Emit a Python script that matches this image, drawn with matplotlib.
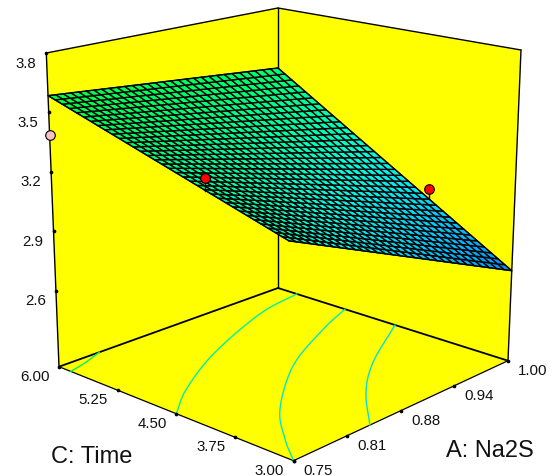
"""Response surface over A: Na2S and C: Time, drawn in a hand-rolled box projection."""

import matplotlib

matplotlib.use("Agg")
import matplotlib.pyplot as plt
import numpy as np
from matplotlib.collections import PolyCollection
from matplotlib.colors import LinearSegmentedColormap

plt.rcParams["font.family"] = ["Liberation Sans", "DejaVu Sans"]

# axis ranges and ticks
A_RANGE = (0.75, 1.00)
C_RANGE = (3.00, 6.00)
Z_RANGE = (2.218, 3.80)
a_ticks = [0.75, 0.81, 0.88, 0.94, 1.00]
a_pos = [0.75, 0.8125, 0.875, 0.9375, 1.00]
c_ticks = [3.00, 3.75, 4.50, 5.25, 6.00]
z_ticks = [2.6, 2.9, 3.2, 3.5, 3.8]

# response at the corners of the factor space
surf_a = [0.75, 1.00]
surf_c = [3.00, 6.00]
surf_z = [[3.221, 3.585], [2.676, 3.461]]  # rows: A, cols: C

# design points
red_a = [0.75, 1.00]
red_c = [4.04, 4.06]
red_z = [3.40, 2.99]
pink_a, pink_c, pink_z = 0.75, 6.00, 3.386

# floor contours (A, C)
cont1_a = [0.75, 0.771, 0.796]
cont1_c = [5.85, 5.905, 6.00]
cont2_a = [0.75, 0.791, 0.859, 0.9475, 1.00]
cont2_c = [4.50, 4.827, 5.239, 5.637, 5.756]
cont3_a = [0.75, 0.7747, 0.814, 0.885, 0.957, 1.00]
cont3_c = [3.00, 3.38, 3.88, 4.50, 4.92, 5.126]
cont4_a = [0.839, 0.8836, 0.931, 1.00]
cont4_c = [3.00, 3.545, 3.984, 4.473]

# box corners in figure pixels: [left, front, right, back]
FLOOR = np.array([[59, 367.7], [293.5, 461.7], [508, 361.7], [278, 289]])
ROOF = np.array([[46.3, 54], [286.4, 115], [521, 51], [278, 9]])

N_A, N_C = 30, 34
W, H = 554, 477


def project(a, c, z):
    """Trilinear map of (A, C, z) into the picture."""
    s = (np.asarray(a, float) - A_RANGE[0]) / (A_RANGE[1] - A_RANGE[0])
    t = (C_RANGE[1] - np.asarray(c, float)) / (C_RANGE[1] - C_RANGE[0])
    h = (np.asarray(z, float) - Z_RANGE[0]) / (Z_RANGE[1] - Z_RANGE[0])

    def quad(q, i):
        near = q[0, i] + t * (q[1, i] - q[0, i])
        far = q[3, i] + t * (q[2, i] - q[3, i])
        return near + s * (far - near)

    x = quad(FLOOR, 0) + h * (quad(ROOF, 0) - quad(FLOOR, 0))
    y = quad(FLOOR, 1) + h * (quad(ROOF, 1) - quad(FLOOR, 1))
    return x, y


def surface(a, c):
    s = (a - surf_a[0]) / (surf_a[1] - surf_a[0])
    t = (c - surf_c[0]) / (surf_c[1] - surf_c[0])
    (z00, z01), (z10, z11) = surf_z
    return (1 - s) * ((1 - t) * z00 + t * z01) + s * ((1 - t) * z10 + t * z11)


def surface_xy(a, c):
    # straight surface edges: blend the projected corners, not the z values
    s = (a - surf_a[0]) / (surf_a[1] - surf_a[0])
    t = (c - surf_c[0]) / (surf_c[1] - surf_c[0])
    pts = [[project(surf_a[i], surf_c[j], surf_z[i][j]) for j in (0, 1)] for i in (0, 1)]
    (p00, p01), (p10, p11) = np.array(pts, float)
    return (1 - s) * ((1 - t) * p00 + t * p01) + s * ((1 - t) * p10 + t * p11)


def smooth(x, y, k=8):
    """Catmull-Rom through the read points, just so the contours are not angular."""
    p = np.column_stack([x, y])
    if len(p) < 3:
        return p[:, 0], p[:, 1]
    p = np.vstack([2 * p[0] - p[1], p, 2 * p[-1] - p[-2]])
    out = []
    for i in range(1, len(p) - 2):
        for u in np.linspace(0, 1, k, endpoint=False):
            out.append(0.5 * (2 * p[i] + (p[i + 1] - p[i - 1]) * u
                              + (2 * p[i - 1] - 5 * p[i] + 4 * p[i + 1] - p[i + 2]) * u ** 2
                              + (3 * p[i] - p[i - 1] - 3 * p[i + 1] + p[i + 2]) * u ** 3))
    out.append(p[-2])
    out = np.array(out)
    return out[:, 0], out[:, 1]


def main():
    fig = plt.figure(figsize=(W / 100, H / 100), dpi=100)
    ax = fig.add_axes([0, 0, 1, 1])
    ax.set_xlim(0, W)
    ax.set_ylim(H, 0)
    ax.axis("off")

    yellow = "#ffff00"
    walls = [
        [ROOF[0], ROOF[3], FLOOR[3], FLOOR[0]],
        [ROOF[3], ROOF[2], FLOOR[2], FLOOR[3]],
        [FLOOR[0], FLOOR[1], FLOOR[2], FLOOR[3]],
    ]
    ax.add_collection(PolyCollection(walls, facecolors=yellow, edgecolors="none", zorder=1))

    # box outline
    for p, q, lw in [
        (ROOF[0], ROOF[3], 1.0), (ROOF[3], ROOF[2], 1.0), (ROOF[0], FLOOR[0], 1.0),
        (ROOF[2], FLOOR[2], 1.0), (ROOF[3], FLOOR[3], 1.0), (FLOOR[0], FLOOR[3], 1.3),
        (FLOOR[3], FLOOR[2], 1.3), (FLOOR[0], FLOOR[1], 0.9), (FLOOR[1], FLOOR[2], 0.9),
    ]:
        ax.plot([p[0], q[0]], [p[1], q[1]], color="black", lw=lw, zorder=2, solid_capstyle="round")

    # floor contours
    for ca, cc, col in [
        (cont1_a, cont1_c, "#00f070"),
        (cont2_a, cont2_c, "#00f0a8"),
        (cont3_a, cont3_c, "#00e8c8"),
        (cont4_a, cont4_c, "#00e0e0"),
    ]:
        x, y = project(ca, cc, Z_RANGE[0])
        x, y = smooth(x, y)
        ax.plot(x, y, color=col, lw=1.0, zorder=3)

    # response surface
    cmap = LinearSegmentedColormap.from_list(
        "resp", ["#0090ff", "#00d0ff", "#00ffe0", "#00ff90", "#00ff40"]
    )
    ag = np.linspace(A_RANGE[0], A_RANGE[1], N_A + 1)
    cg = np.linspace(C_RANGE[0], C_RANGE[1], N_C + 1)
    polys, vals = [], []
    for i in range(N_A):
        for j in range(N_C):
            aa = [ag[i], ag[i + 1], ag[i + 1], ag[i]]
            cc = [cg[j], cg[j], cg[j + 1], cg[j + 1]]
            polys.append([surface_xy(a, c) for a, c in zip(aa, cc)])
            vals.append(np.mean([surface(a, c) for a, c in zip(aa, cc)]))
    mesh = PolyCollection(polys, array=np.array(vals), cmap=cmap, edgecolors="black",
                          linewidths=1.0, zorder=4)
    mesh.set_clim(2.676, 3.585)
    ax.add_collection(mesh)
    edge = [surface_xy(a, c) for a, c in zip(
        [surf_a[0], surf_a[1], surf_a[1], surf_a[0], surf_a[0]],
        [surf_c[0], surf_c[0], surf_c[1], surf_c[1], surf_c[0]])]
    ax.plot(*np.array(edge).T, color="black", lw=0.8, zorder=4)

    # design points with their stems down to the surface
    for a, c, z in zip(red_a, red_c, red_z):
        x0, y0 = surface_xy(a, c)
        _, y1 = project(a, c, z)
        ax.plot([x0, x0], [y0, y1], color="black", lw=1.0, zorder=5)
        ax.scatter([x0], [y1], s=48, c="#ff0000", edgecolors="black", linewidths=0.8, zorder=6)
    x, y = project(pink_a, pink_c, pink_z)
    ax.scatter([x], [y], s=48, c="#f8c0c0", edgecolors="black", linewidths=0.8, zorder=6)

    # ticks and tick labels
    fs = 10.8
    for a, lab in zip(a_pos, a_ticks):
        x, y = project(a, C_RANGE[0], Z_RANGE[0])
        ax.scatter([x], [y], s=7, c="black", zorder=5, linewidths=0)
        ax.text(x + 25, y + 9.3, f"{lab:.2f}", fontsize=fs, ha="center", va="center", color="#111111")
    for c in c_ticks:
        x, y = project(A_RANGE[0], c, Z_RANGE[0])
        ax.scatter([x], [y], s=7, c="black", zorder=5, linewidths=0)
        ax.text(x - 24.3, y + 9.3, f"{c:.2f}", fontsize=fs, ha="center", va="center", color="#111111")
    for z in z_ticks:
        x, y = project(A_RANGE[0], C_RANGE[1], z)
        ax.scatter([x], [y], s=7, c="black", zorder=5, linewidths=0)
        ax.text(x - 20.7, y + 9.5, f"{z:.1f}", fontsize=fs, ha="center", va="center", color="#111111")

    ax.text(92, 457, "C: Time", fontsize=17, ha="center", va="center", color="#111111")
    ax.text(490, 451, "A: Na2S", fontsize=17, ha="center", va="center", color="#111111")

    fig.savefig("out.png", dpi=100, facecolor="white")


if __name__ == "__main__":
    main()
